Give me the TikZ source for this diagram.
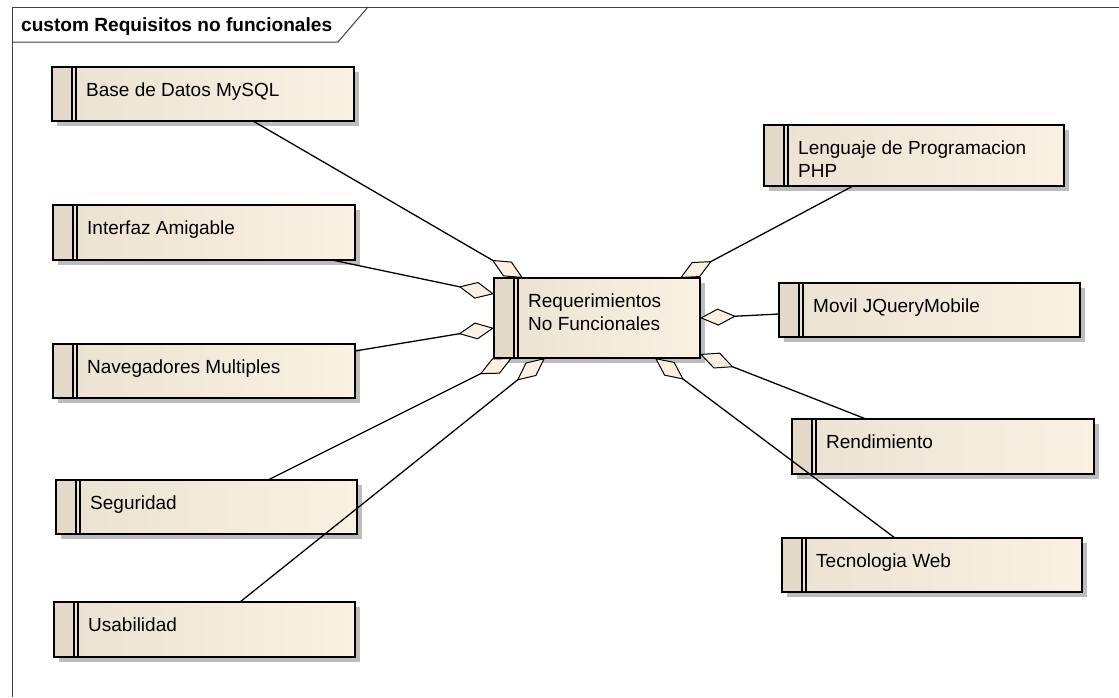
\documentclass[tikz,border=0pt]{standalone}
\usepackage{fontspec}
\setmainfont{Liberation Sans}
\usetikzlibrary{arrows.meta,shadows}
\definecolor{stripc}{HTML}{E3D9C9}
\definecolor{bodyl}{HTML}{ECE2D2}
\definecolor{bodyr}{HTML}{FBF1E2}
\definecolor{shadowc}{HTML}{BDBDBD}
\definecolor{diamc}{HTML}{FBF1E2}
\definecolor{framec}{HTML}{404040}
\tikzset{
  boxbody/.style={anchor=north west, inner sep=0pt, outer sep=0pt,
    left color=bodyl, right color=bodyr,
    drop shadow={shadow xshift=5pt, shadow yshift=-5pt, fill=shadowc, opacity=1}},
  dbl/.style={line width=1.3pt, black},
  boxline/.style={line width=1.8pt, black},
  lbl/.style={anchor=north west, inner sep=0pt, align=left,
    font=\fontsize{19}{23.5}\selectfont},
  conn/.style={line width=1.3pt, black,
    -{Diamond[length=36pt,width=17pt,fill=diamc,line width=1pt]}},
  framel/.style={line width=1pt, framec}
}
\newcommand{\ubox}[6]{%
  \node[boxbody, minimum width=#4pt, minimum height=#5pt] (#1) at (#2,#3) {};
  \fill[stripc] (#1.north west) rectangle ([xshift=20pt]#1.south west);
  \draw[dbl] ([xshift=20pt]#1.north west) -- ([xshift=20pt]#1.south west);
  \draw[dbl] ([xshift=24pt]#1.north west) -- ([xshift=24pt]#1.south west);
  \draw[boxline] (#1.north west) rectangle (#1.south east);
  \node[lbl] (#1-t) at ([xshift=34pt,yshift=-15.5pt]#1.north west) {#6};
}
\begin{document}
\begin{tikzpicture}[x=1pt,y=-1pt]
\useasboundingbox[fill=white] (0,0) rectangle (1119,697);
% frame
\draw[framel] (12,697) -- (12,7) -- (1119,7);
\draw[framel] (12,42) -- (338,42) -- (368,7);
\node[anchor=base west, inner sep=0pt, font=\bfseries\fontsize{19.1}{22}\selectfont] (title) at (21,31) {custom Requisitos no funcionales};
% boxes
\ubox{base}{52}{67}{302}{54}{Base de Datos MySQL}
\ubox{interfaz}{53}{205}{302}{55}{Interfaz Amigable}
\ubox{nav}{53}{344}{302}{54}{Navegadores Multiples}
\ubox{seg}{56}{480}{301}{54}{Seguridad}
\ubox{usab}{54}{602}{301}{55}{Usabilidad}
\ubox{leng}{764}{125}{300}{61}{Lenguaje de Programacion\\PHP}
\ubox{movil}{779}{283}{301}{54}{Movil JQueryMobile}
\ubox{rend}{792}{419}{302}{55}{Rendimiento}
\ubox{tec}{782}{538}{300}{54}{Tecnologia Web}
\ubox{req}{494}{278}{206}{80}{Requerimientos\\No Funcionales}
% connectors
\draw[conn] ([xshift=201pt]base.south west) -- ([xshift=29pt]req.north west);
\draw[conn] ([xshift=-23pt]interfaz.south east) -- ([yshift=-16pt]req.north west);
\draw[conn] ([yshift=-7pt]nav.north east) -- ([yshift=-50pt]req.north west);
\draw[conn] ([xshift=212pt]seg.north west) -- ([xshift=18pt]req.south west);
\draw[conn] ([xshift=186pt]usab.north west) -- ([xshift=51pt]req.south west);
\draw[conn] ([xshift=89pt]leng.south west) -- ([xshift=-20pt]req.north east);
\draw[conn] ([yshift=-31pt]movil.north west) -- (req.east);
\draw[conn] ([xshift=74pt]rend.north west) -- ([yshift=4pt]req.south east);
\draw[conn] ([xshift=113pt]tec.north west) -- ([xshift=-45pt]req.south east);
\end{tikzpicture}
\end{document}
